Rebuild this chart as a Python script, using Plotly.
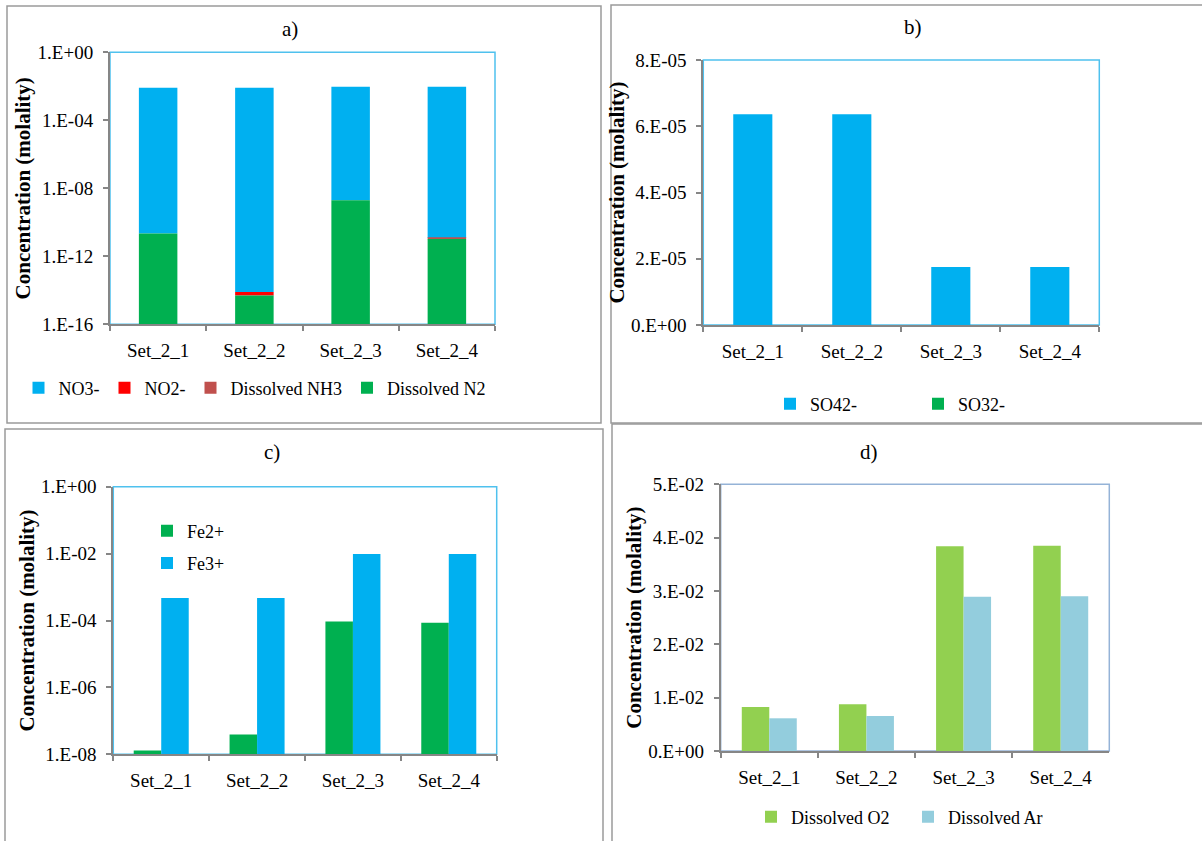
import numpy as np
import plotly.graph_objects as go

W, H = 1202, 841

categories = ["Set_2_1", "Set_2_2", "Set_2_3", "Set_2_4"]

# Panel a) nitrogen species (molality), stacked on log axis
a_N2 = [2.2e-11, 5.0e-15, 2.0e-9, 1.05e-11]
a_NH3 = [0.0, 0.0, 0.0, 1.5e-12]
a_NO2 = [0.0, 3.0e-15, 0.0, 0.0]
a_NO3 = [8.3e-3, 8.3e-3, 9.5e-3, 9.5e-3]

# Panel b) sulfur species
b_SO4 = [6.36e-5, 6.36e-5, 1.75e-5, 1.75e-5]
b_SO3 = [0.0, 0.0, 0.0, 0.0]

# Panel c) iron species
c_Fe2 = [1.3e-8, 3.9e-8, 9.3e-5, 8.5e-5]
c_Fe3 = [4.7e-4, 4.7e-4, 9.8e-3, 9.8e-3]

# Panel d) dissolved gases
d_O2 = [8.25e-3, 8.75e-3, 3.84e-2, 3.85e-2]
d_Ar = [6.13e-3, 6.56e-3, 2.89e-2, 2.90e-2]

a_ticks = [1e0, 1e-4, 1e-8, 1e-12, 1e-16]
a_ticktext = ["1.E+00", "1.E-04", "1.E-08", "1.E-12", "1.E-16"]
b_ticks = [0, 2e-5, 4e-5, 6e-5, 8e-5]
b_ticktext = ["0.E+00", "2.E-05", "4.E-05", "6.E-05", "8.E-05"]
c_ticks = [1e0, 1e-2, 1e-4, 1e-6, 1e-8]
c_ticktext = ["1.E+00", "1.E-02", "1.E-04", "1.E-06", "1.E-08"]
d_ticks = [0, 0.01, 0.02, 0.03, 0.04, 0.05]
d_ticktext = ["0.E+00", "1.E-02", "2.E-02", "3.E-02", "4.E-02", "5.E-02"]

BLUE = "#00B0F0"
GREEN = "#00B050"
RED = "#FF0000"
NH3C = "#C0504D"
O2C = "#92D050"
ARC = "#93CDDD"
FONT = "Liberation Serif"


def px_x(v):
    return v / W


def px_y(v):
    return 1 - v / H


fig = go.Figure()

# ---- panel a: stacked (bases from cumulative sums of the data)
n2 = np.array(a_N2)
nh3 = np.array(a_NH3)
no2 = np.array(a_NO2)
no3 = np.array(a_NO3)
base_nh3 = n2
base_no2 = n2 + nh3
base_no3 = n2 + nh3 + no2
bw_a = 0.4
fig.add_bar(x=categories, y=no3, base=base_no3, name="NO3-", marker_color=BLUE,
            width=bw_a, xaxis="x", yaxis="y", legend="legend")
fig.add_bar(x=categories, y=no2, base=base_no2, name="NO2-", marker_color=RED,
            width=bw_a, xaxis="x", yaxis="y", legend="legend")
fig.add_bar(x=categories, y=nh3, base=base_nh3, name="Dissolved NH3", marker_color=NH3C,
            width=bw_a, xaxis="x", yaxis="y", legend="legend")
fig.add_bar(x=categories, y=n2, name="Dissolved N2", marker_color=GREEN,
            width=bw_a, xaxis="x", yaxis="y", legend="legend")

# ---- panel b
fig.add_bar(x=categories, y=b_SO4, name="SO42-", marker_color=BLUE, width=0.395,
            xaxis="x2", yaxis="y2", legend="legend2")
fig.add_bar(x=categories, y=b_SO3, name="SO32-", marker_color=GREEN, width=0.395,
            xaxis="x2", yaxis="y2", legend="legend2")

# ---- panel c grouped
bw_c = 0.287
fig.add_bar(x=categories, y=c_Fe2, name="Fe2+", marker_color=GREEN, width=bw_c, offset=-bw_c,
            xaxis="x3", yaxis="y3", legend="legend3", legendgroup="fe2")
fig.add_bar(x=categories, y=c_Fe3, name="Fe3+", marker_color=BLUE, width=bw_c, offset=0,
            xaxis="x3", yaxis="y3", legend="legend3", legendgroup="fe3")

# ---- panel d grouped
bw_d = 0.283
fig.add_bar(x=categories, y=d_O2, name="Dissolved O2", marker_color=O2C, width=bw_d, offset=-bw_d,
            xaxis="x4", yaxis="y4", legend="legend4")
fig.add_bar(x=categories, y=d_Ar, name="Dissolved Ar", marker_color=ARC, width=bw_d, offset=0,
            xaxis="x4", yaxis="y4", legend="legend4")

fig.update_traces(marker_line_width=0)

# plot areas in pixels (left, right, top, bottom)
areas = {
    "": (110, 495, 52.3, 324.3),
    "2": (703.3, 1099.3, 60, 325),
    "3": (113.3, 496.7, 486.7, 754.3),
    "4": (720.7, 1109.3, 484.3, 751),
}

AXGRAY = "#868686"
tickfont = dict(family=FONT, size=19, color="black")
titlefont = dict(family=FONT, size=21, color="black", weight="bold")

yconf = {
    "": dict(type="log", range=[-16, 0], tickvals=a_ticks, ticktext=a_ticktext),
    "2": dict(range=[0, 8e-5], tickvals=b_ticks, ticktext=b_ticktext),
    "3": dict(type="log", range=[-8, 0], tickvals=c_ticks, ticktext=c_ticktext),
    "4": dict(range=[0, 0.05], tickvals=d_ticks, ticktext=d_ticktext),
}

layout = {}
for k, (l, r, t, b) in areas.items():
    xa = "xaxis" + k
    ya = "yaxis" + k
    layout[xa] = dict(
        domain=[px_x(l), px_x(r)], anchor="y" + k, showline=True, linecolor=AXGRAY, linewidth=2,
        ticks="outside", tickson="boundaries", ticklen=5, tickcolor=AXGRAY, tickwidth=1.5,
        showgrid=False, tickfont=tickfont, categoryorder="array", categoryarray=categories,
        range=[-0.5, 3.5], fixedrange=True, ticklabelstandoff=8,
    )
    yc = dict(
        domain=[px_y(b), px_y(t)], anchor="x" + k, showline=True, linecolor=AXGRAY, linewidth=2,
        ticks="outside", ticklen=5, tickcolor=AXGRAY, tickwidth=1.5, showgrid=False,
        zeroline=False, tickfont=tickfont, tickmode="array", ticklabelstandoff=6,
        title=dict(text="Concentration (molality)", font=titlefont, standoff=1),
    )
    yc.update(yconf[k])
    layout[ya] = yc

fig.update_layout(**layout)

shapes = []
# plot-area frames (top/right light blue)
frame_colors = {"": "#4FC1EE", "2": "#4FC1EE", "3": "#4FC1EE", "4": "#95B3D7"}
for k in areas:
    xr = ("x" + k if k else "x") + " domain"
    yr = ("y" + k if k else "y") + " domain"
    shapes.append(dict(type="rect", xref=xr, yref=yr, x0=0, x1=1, y0=0, y1=1,
                       line=dict(color=frame_colors[k], width=1.5), layer="below"))

# panel borders (paper coords)
BORDER = "#9A9A9A"
for (x0, y0, x1, y1) in [(7, 6, 601, 423), (611, 5, 1205, 423), (5, 429, 603, 845), (612, 424, 1205, 845)]:
    shapes.append(dict(type="rect", xref="paper", yref="paper", x0=px_x(x0), x1=px_x(x1),
                       y0=px_y(y1), y1=px_y(y0), line=dict(color=BORDER, width=1.5)))

annotations = []
for txt, xp, yp in [("a)", 290, 29), ("b)", 913, 27), ("c)", 272, 452), ("d)", 869, 452)]:
    annotations.append(dict(text=txt, xref="paper", yref="paper", x=px_x(xp), y=px_y(yp),
                            xanchor="center", yanchor="middle", showarrow=False,
                            font=dict(family=FONT, size=21, color="black")))

legfont = dict(family=FONT, size=18, color="black")
fig.update_layout(
    width=W, height=H, margin=dict(l=0, r=0, t=0, b=0, autoexpand=False),
    paper_bgcolor="white", plot_bgcolor="white", barmode="overlay",
    shapes=shapes, annotations=annotations, showlegend=True,
    legend=dict(orientation="h", x=px_x(254.5), y=px_y(388), xanchor="center", yanchor="middle",
                font=legfont, traceorder="normal", itemclick=False, bgcolor="rgba(0,0,0,0)"),
    legend2=dict(orientation="h", x=px_x(770), y=px_y(404), xanchor="left", yanchor="middle",
                 font=legfont, traceorder="normal", entrywidth=103, bgcolor="rgba(0,0,0,0)"),
    legend3=dict(orientation="v", x=px_x(147), y=px_y(547), xanchor="left", yanchor="middle",
                 font=legfont, traceorder="grouped", tracegroupgap=6, bgcolor="rgba(0,0,0,0)"),
    legend4=dict(orientation="h", x=px_x(751), y=px_y(817), xanchor="left", yanchor="middle",
                 font=legfont, traceorder="normal", entrywidth=112, bgcolor="rgba(0,0,0,0)"),
)

fig.write_html(
    "out.html",
    config={"displayModeBar": False},
    post_script="document.body.style.margin='0';document.body.style.overflow='hidden';",
)
